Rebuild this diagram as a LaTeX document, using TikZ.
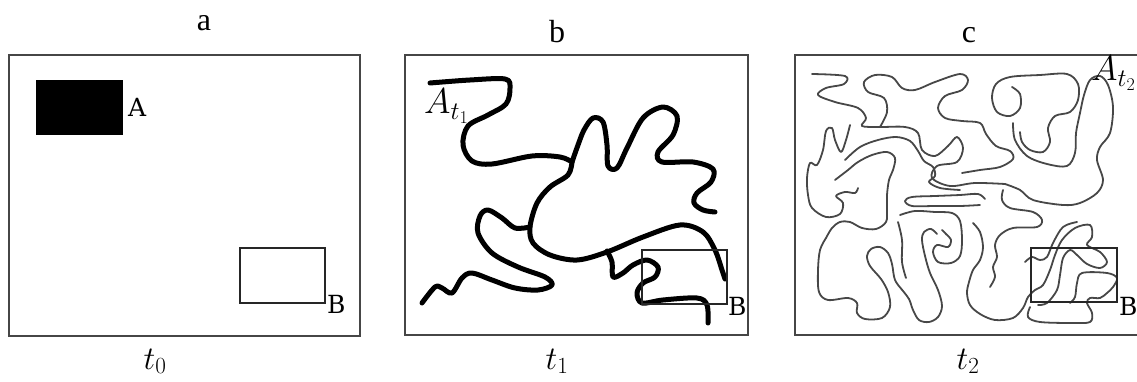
\documentclass[tikz,border=0pt]{standalone}
\usepackage{fix-cm}
\usepackage{fontspec}
\setmainfont{Liberation Serif}
\newfontfamily\slabfont{DejaVu Serif}
\usetikzlibrary{positioning}
\definecolor{framegray}{RGB}{70,70,70}

\begin{document}
\begin{tikzpicture}[
    x=1pt, y=-1pt,
    frame/.style={draw=framegray, line width=2pt},
    region/.style={draw=black!85, line width=1.3pt},
    spreadthick/.style={draw=black, line width=5pt, line cap=round, line join=round},
    spreadthin/.style={draw=black!72, line width=1.8pt, line cap=round, line join=round},
    ttl/.style={font=\fontsize{32}{32}\selectfont, anchor=base, inner sep=0pt},
    tlab/.style={font=\fontsize{33}{33}\selectfont, anchor=base, inner sep=0pt},
    ptlab/.style={font=\slabfont\fontsize{25}{25}\selectfont, anchor=base west, inner sep=0pt},
    alab/.style={font=\fontsize{36}{36}\selectfont, anchor=base west, inner sep=0pt}
  ]
  \useasboundingbox (0,0) rectangle (1137,382);

  % panel titles
  \node[ttl] (ta) at (204,31) {a};
  \node[ttl] (tb) at (557,43) {b};
  \node[ttl] (tc) at (969,43) {c};

  % frames
  \draw[frame] (9,55) rectangle (360,336);
  \draw[frame] (405,55) rectangle (748,335);
  \draw[frame] (795,55) rectangle (1140,335);

  % time labels
  \node[tlab] (t0) at (155,369) {$t_0$};
  \node[tlab] (t1) at (557,369) {$t_1$};
  \node[tlab] (t2) at (968,369) {$t_2$};

  % panel a: source A, target B
  \fill[black] (36,80) rectangle (123,135);
  \node[ptlab] (la) at (128,117) {A};
  \draw[region] (240,248) rectangle (325,303);
  \node[ptlab] (lba) at (327,313) {B};

  % panel b: thick spread at t1
  \draw[spreadthick] plot[smooth, tension=0.55] coordinates {(430,83) (470,80) (505,79) (510,88) (506,104) (488,115) (468,126) (463,145) (472,161) (492,164) (532,156) (560,157) (572,162)};
  \draw[spreadthick] plot[smooth, tension=0.55] coordinates {(572,162) (578,145) (584,130) (593,118) (603,122) (607,145) (608,166) (617,168) (627,148) (643,118) (663,107) (677,116) (673,135) (658,152) (662,162) (693,162) (713,169) (711,182) (697,193) (694,203) (703,210) (715,212)};
  \draw[spreadthick] plot[smooth, tension=0.55] coordinates {(572,162) (568,175) (550,187) (537,203) (530,227) (533,243) (550,255) (577,260) (607,252) (643,237) (680,225) (703,232) (715,250) (722,270) (725,279)};
  \draw[spreadthick] plot[smooth, tension=0.55] coordinates {(530,227) (515,228) (502,218) (488,210) (480,216) (478,233) (492,253) (518,267) (545,277) (552,285) (538,290) (515,288) (492,280) (472,273) (462,278) (452,293) (442,288) (435,287) (422,303)};
  \draw[spreadthick] plot[smooth, tension=0.55] coordinates {(607,251) (612,262) (613,277) (623,273) (633,265) (647,260) (658,267) (655,277) (643,283) (637,293) (642,303) (663,300) (697,298) (707,305) (708,323)};
  \draw[region] (642,250) rectangle (727,304);
  \node[ptlab] (lbb) at (728,315) {B};
  \node[alab] (at1) at (424,114) {$A_{t_1}$};

  % panel c: thin spread at t2
  \draw[spreadthin] plot[smooth, tension=0.55] coordinates {(812,74) (845,76) (844,84) (826,88) (818,95) (835,102) (858,108) (866,118) (862,126) (880,127) (905,127) (918,133) (922,150) (935,156) (948,146) (957,137) (963,148) (957,162) (937,166) (932,178) (950,186) (975,183) (1005,184)};
  \draw[spreadthin] plot[smooth, tension=0.55] coordinates {(880,127) (887,112) (884,98) (868,92) (864,82) (875,75) (892,77) (902,88) (915,90) (935,82) (960,74) (968,80) (962,90) (945,96) (938,108) (945,118) (962,121) (980,123) (986,134) (996,146) (1010,151) (1013,159) (1000,167) (980,170) (962,173)};
  \draw[spreadthin] plot[smooth, tension=0.55] coordinates {(1012,87) (1020,94) (1020,108) (1010,116) (997,112) (992,98) (996,84) (1010,77) (1040,75) (1067,74) (1078,84) (1078,100) (1070,112) (1055,116) (1048,128) (1050,142) (1043,152) (1030,150) (1022,142) (1020,132)};
  \draw[spreadthin] plot[smooth, tension=0.55] coordinates {(1013,123) (1015,140) (1027,156) (1047,164) (1067,166) (1075,153) (1076,133) (1080,113) (1084,95) (1090,80) (1100,76) (1108,85) (1113,107) (1110,133) (1100,147) (1097,160) (1103,180) (1097,193) (1080,203) (1063,205) (1033,200) (1020,190) (1005,184)};
  \draw[spreadthin] plot[smooth, tension=0.55] coordinates {(850,125) (846,140) (841,152) (835,140) (832,128) (826,131) (823,150) (817,165) (810,163) (807,178) (808,195) (812,208) (826,217) (840,214) (843,203) (836,196) (845,192) (855,193) (858,188)};
  \draw[spreadthin] plot[smooth, tension=0.55] coordinates {(845,160) (860,147) (878,140) (896,137) (910,141) (918,151) (924,161) (933,167) (935,176) (929,182) (940,188) (960,190)};
  \draw[spreadthin] plot[smooth, tension=0.55] coordinates {(835,180) (848,170) (858,162) (872,155) (887,152) (895,158) (893,170) (889,180) (887,195) (887,210) (886,222) (876,229) (862,228) (850,222) (840,222) (832,228) (826,238)};
  \draw[spreadthin] plot[smooth, tension=0.55] coordinates {(826,238) (820,250) (818,270) (819,292) (828,300) (848,298) (857,303) (857,313) (865,319) (882,318) (890,307) (888,292) (881,279) (870,266) (867,256) (871,249) (880,247) (888,253) (892,264) (895,280) (903,291) (909,299) (913,310) (919,320) (929,322) (938,317) (942,306) (938,290) (930,273) (925,256) (922,240) (924,232) (931,229) (937,234)};
  \draw[spreadthin] plot[smooth, tension=0.55] coordinates {(985,199) (978,194) (960,195) (935,196) (912,197) (905,201) (912,206) (935,206) (960,206) (980,205)};
  \draw[spreadthin] plot[smooth, tension=0.55] coordinates {(900,215) (915,211) (935,212) (952,213) (960,221) (962,240) (960,256) (951,263) (938,262) (933,252) (937,245) (948,247) (951,240) (946,234) (942,230)};
  \draw[spreadthin] plot[smooth, tension=0.55] coordinates {(898,222) (902,240) (902,262) (906,278)};
  \draw[spreadthin] plot[smooth, tension=0.55] coordinates {(1003,190) (1002,200) (1010,208) (1033,212) (1042,220) (1037,227) (1013,228) (1000,235) (995,245) (997,257) (993,267) (995,277) (990,287)};
  \draw[spreadthin] plot[smooth, tension=0.55] coordinates {(973,223) (980,232) (983,247) (980,260) (973,270) (969,282) (967,293) (970,305) (980,314) (995,320) (1013,318) (1023,308) (1028,297) (1035,290) (1043,285) (1050,270) (1055,255) (1062,240) (1075,228) (1090,225) (1092,237) (1087,245) (1100,252) (1107,262) (1100,268) (1087,264) (1077,255) (1070,250) (1063,258) (1060,275) (1057,290) (1047,303) (1038,305)};
  \draw[spreadthin] plot[smooth, tension=0.55] coordinates {(1030,307) (1028,317) (1040,322) (1073,323) (1090,322) (1092,313) (1087,303) (1090,298) (1100,298) (1107,293) (1113,287) (1117,278) (1107,273) (1082,273) (1077,283) (1075,297) (1070,303)};
  \draw[spreadthin] plot[smooth, tension=0.55] coordinates {(1025,262) (1032,257) (1040,260) (1047,257) (1053,243) (1063,227) (1077,222)};
  \draw[region] (1031,248) rectangle (1117,302);
  \node[ptlab] (lbc) at (1119,315) {B};
  \node[alab] (at2) at (1091,81) {$A_{t_2}$};
\end{tikzpicture}
\end{document}
